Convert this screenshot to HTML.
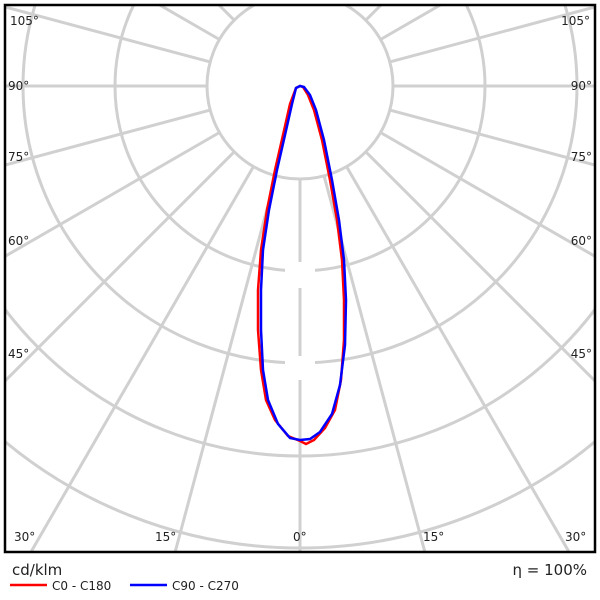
<!DOCTYPE html>
<html><head><style>html,body{margin:0;padding:0;background:#fff;overflow:hidden;width:600px;height:600px}svg{display:block}</style></head><body>
<svg width="600" height="600" viewBox="0 0 600 600" xmlns="http://www.w3.org/2000/svg" font-family="DejaVu Sans, Liberation Sans, sans-serif">
<defs><clipPath id="c"><rect x="6" y="6" width="588" height="545"/></clipPath></defs>
<g clip-path="url(#c)" stroke="#d0d0d0" stroke-width="3" fill="none">
<circle cx="300" cy="86" r="93"/>
<circle cx="300" cy="86" r="185"/>
<circle cx="300" cy="86" r="277"/>
<circle cx="300" cy="86" r="370"/>
<circle cx="300" cy="86" r="462"/>
<line x1="300" y1="179" x2="300" y2="700"/>
<g transform="rotate(15 300 86)"><line x1="300" y1="179" x2="300" y2="700"/></g>
<g transform="rotate(30 300 86)"><line x1="300" y1="179" x2="300" y2="700"/></g>
<g transform="rotate(45 300 86)"><line x1="300" y1="179" x2="300" y2="700"/></g>
<g transform="rotate(60 300 86)"><line x1="300" y1="179" x2="300" y2="700"/></g>
<g transform="rotate(75 300 86)"><line x1="300" y1="179" x2="300" y2="700"/></g>
<g transform="rotate(90 300 86)"><line x1="300" y1="179" x2="300" y2="700"/></g>
<g transform="rotate(105 300 86)"><line x1="300" y1="179" x2="300" y2="700"/></g>
<g transform="rotate(120 300 86)"><line x1="300" y1="179" x2="300" y2="700"/></g>
<g transform="rotate(135 300 86)"><line x1="300" y1="179" x2="300" y2="700"/></g>
<g transform="rotate(150 300 86)"><line x1="300" y1="179" x2="300" y2="700"/></g>
<g transform="rotate(165 300 86)"><line x1="300" y1="179" x2="300" y2="700"/></g>
<g transform="rotate(180 300 86)"><line x1="300" y1="179" x2="300" y2="700"/></g>
<g transform="rotate(-15 300 86)"><line x1="300" y1="179" x2="300" y2="700"/></g>
<g transform="rotate(-30 300 86)"><line x1="300" y1="179" x2="300" y2="700"/></g>
<g transform="rotate(-45 300 86)"><line x1="300" y1="179" x2="300" y2="700"/></g>
<g transform="rotate(-60 300 86)"><line x1="300" y1="179" x2="300" y2="700"/></g>
<g transform="rotate(-75 300 86)"><line x1="300" y1="179" x2="300" y2="700"/></g>
<g transform="rotate(-90 300 86)"><line x1="300" y1="179" x2="300" y2="700"/></g>
<g transform="rotate(-105 300 86)"><line x1="300" y1="179" x2="300" y2="700"/></g>
<g transform="rotate(-120 300 86)"><line x1="300" y1="179" x2="300" y2="700"/></g>
<g transform="rotate(-135 300 86)"><line x1="300" y1="179" x2="300" y2="700"/></g>
<g transform="rotate(-150 300 86)"><line x1="300" y1="179" x2="300" y2="700"/></g>
<g transform="rotate(-165 300 86)"><line x1="300" y1="179" x2="300" y2="700"/></g>
</g>
<g fill="#fff"><rect x="285" y="262" width="30" height="26"/><rect x="285" y="356" width="30" height="24"/></g>
<g font-size="12" fill="#222">
<text x="10" y="25">105°</text><text x="590" y="25" text-anchor="end">105°</text>
<text x="8" y="90">90°</text><text x="592" y="90" text-anchor="end">90°</text>
<text x="8" y="161">75°</text><text x="592" y="161" text-anchor="end">75°</text>
<text x="8" y="245">60°</text><text x="592" y="245" text-anchor="end">60°</text>
<text x="8" y="358">45°</text><text x="592" y="358" text-anchor="end">45°</text>
<text x="14" y="541">30°</text><text x="155" y="541">15°</text><text x="293" y="541">0°</text>
<text x="423" y="541">15°</text><text x="565" y="541">30°</text>
</g>
<rect x="5" y="5" width="590" height="547" fill="none" stroke="#000" stroke-width="2.5"/>
<path d="M300,86 L296,88 L290,104 L283,135 L275,170 L267,210 L261,250 L258,290 L258,330 L261,370 L266,400 L275,420 L288,436 L300,441 L306,444 L314,440 L325,428 L335,410 L341,380 L344,340 L344,300 L342,260 L337,220 L330,180 L322,140 L314,110 L308,95 L303,87 Z" fill="none" stroke="#f00" stroke-width="2.5"/>
<path d="M300,86 L296,88 L292,104 L285,135 L277,170 L269,210 L263,250 L261,290 L261,330 L263,370 L268,400 L278,424 L290,438 L300,440 L310,439 L320,432 L332,414 L340,385 L345,345 L346,300 L344,260 L339,220 L332,180 L324,140 L316,110 L310,95 L304,87 Z" fill="none" stroke="#00f" stroke-width="2.5"/>
<text x="12" y="575" font-size="15" fill="#222">cd/klm</text>
<text x="587" y="575" font-size="15" fill="#222" text-anchor="end">η = 100%</text>
<line x1="10" y1="585" x2="47" y2="585" stroke="#f00" stroke-width="2.5"/>
<text x="52" y="590" font-size="12" fill="#222">C0 - C180</text>
<line x1="130" y1="585" x2="167" y2="585" stroke="#00f" stroke-width="2.5"/>
<text x="172" y="590" font-size="12" fill="#222">C90 - C270</text>
</svg>
</body></html>
